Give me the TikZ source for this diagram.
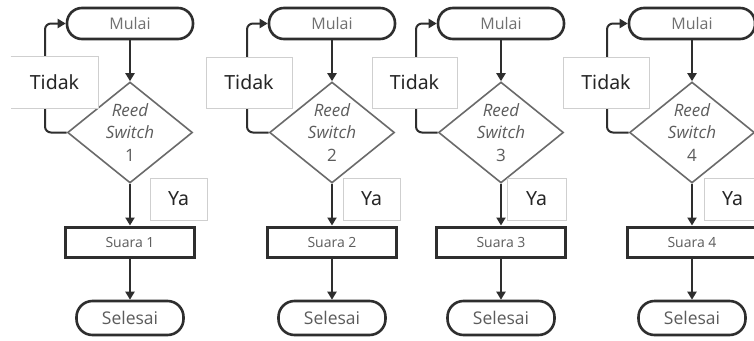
\documentclass[tikz,border=0pt]{standalone}
\usepackage{fontspec}
\setmainfont{Open Sans}
\newfontfamily\labelfont{Noto Sans}
\usetikzlibrary{shapes.geometric,arrows.meta}
\definecolor{edgec}{HTML}{2E2E2E}
\definecolor{txtc}{HTML}{5C5C5C}
\definecolor{mtxtc}{HTML}{707070}
\definecolor{dgray}{HTML}{6A6A6A}
\definecolor{lboxc}{HTML}{CFCFCF}
\begin{document}
\begin{tikzpicture}[x=1pt,y=-1pt,
  startbox/.style={draw=edgec,line width=2.6pt,rounded corners=15pt,minimum width=126pt,minimum height=31pt,inner sep=0pt,fill=white,text=mtxtc,font=\fontsize{16}{18}\selectfont},
  endbox/.style={draw=edgec,line width=2.6pt,rounded corners=16pt,minimum width=107pt,minimum height=34pt,inner sep=0pt,fill=white,text=txtc,font=\fontsize{17.5}{19}\selectfont},
  procbox/.style={draw=edgec,line width=3pt,minimum width=129pt,minimum height=30pt,inner sep=0pt,fill=white,text=txtc,font=\fontsize{14}{16}\selectfont},
  decbox/.style={shape=diamond,draw=dgray,line width=1.6pt,minimum width=125pt,minimum height=101pt,inner sep=0pt,fill=white},
  lab/.style={draw=lboxc,line width=0.8pt,fill=white,inner sep=0pt,text=black!85,font=\labelfont\fontsize{19.5}{22}\selectfont},
  arr/.style={draw=edgec,line width=2pt,-{Triangle[width=9pt,length=8pt]}},
  loopline/.style={draw=edgec,line width=2pt,rounded corners=6pt,-{Triangle[width=9pt,length=8pt]}}
]
\clip (0,0) rectangle (754,340);
\fill[white] (0,0) rectangle (754,340);
\foreach \i/\cx/\tl/\tr/\yl/\yr in {1/130/11/98/150/207, 2/332/206/292/343/400, 3/501/372/457/507/566, 4/692/563/649/704/761}{
  \node[startbox] (m\i) at (\cx,23.5) {Mulai};
  \node[decbox,label={[align=center,text=txtc,font=\fontsize{17}{22.5}\selectfont]center:{\itshape Reed\\\itshape Switch\\\i}}] (d\i) at (\cx,132.5) {};
  \node[procbox] (s\i) at (\cx,242) {Suara \i};
  \node[endbox] (e\i) at (\cx,318) {Selesai};
  \coordinate (L\i) at (\cx-85,80);
  \draw[arr] (m\i) -- (d\i);
  \draw[arr] (d\i) -- (s\i);
  \draw[arr] (s\i) -- (e\i);
  \draw[loopline] (d\i.west) -- (d\i.west -| L\i) |- (m\i.west);
  \pgfmathsetmacro{\tw}{\tr-\tl}
  \pgfmathsetmacro{\yw}{\yr-\yl}
  \ifnum\i=1
    \node[lab,draw=none,minimum width=\tw pt,minimum height=51pt] (t\i) at ({(\tl+\tr)/2},82.5) {Tidak};
    \draw[draw=lboxc,line width=0.8pt] (t\i.north west) -- (t\i.north east) -- (t\i.south east) -- (t\i.south west);
  \else
    \node[lab,minimum width=\tw pt,minimum height=51pt] (t\i) at ({(\tl+\tr)/2},82.5) {Tidak};
  \fi
  \node[lab,minimum width=\yw pt,minimum height=42pt] (y\i) at ({(\yl+\yr)/2},199) {Ya};
}
\end{tikzpicture}
\end{document}
